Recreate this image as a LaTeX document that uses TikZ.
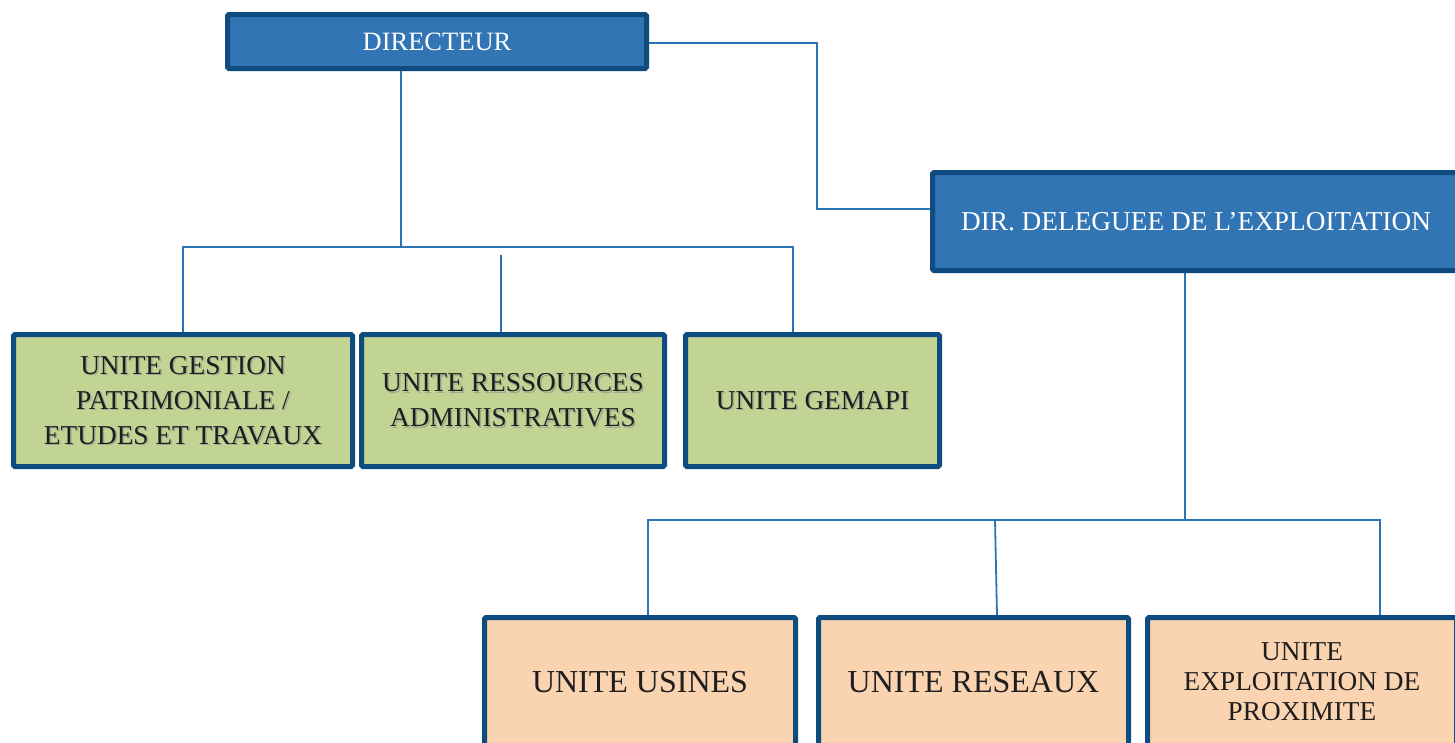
\documentclass[tikz,border=0pt]{standalone}
\usepackage{fontspec}
\setmainfont{Liberation Serif}
\definecolor{boxblue}{HTML}{3275B5}
\definecolor{edgeblue}{HTML}{0E4C80}
\definecolor{boxgreen}{HTML}{C2D494}
\definecolor{boxpeach}{HTML}{FAD3B0}
\definecolor{linkblue}{HTML}{2E74B5}
\definecolor{inkdark}{HTML}{1E1E1E}
\tikzset{
  orgbox/.style={draw=edgeblue, line width=5pt, rounded corners=1.5pt, inner sep=0pt, outer sep=2.5pt},
  bluebox/.style={orgbox, fill=boxblue, text=white},
  greenbox/.style={orgbox, fill=boxgreen},
  peachbox/.style={orgbox, fill=boxpeach, text=inkdark},
  gtext/.style={align=center, inner sep=0pt, font=\fontsize{27.3}{35}\selectfont, text=inkdark},
  gshadow/.style={gtext, text=black!45, opacity=0.6},
  link/.style={draw=linkblue, line width=1.8pt}
}
\begin{document}
\begin{tikzpicture}[x=1pt, y=-1pt]
\useasboundingbox (0,0) rectangle (1455,742);
\clip (0,0) rectangle (1455,742);
\fill[white] (0,0) rectangle (1455,742);

% boxes
\node[bluebox, minimum width=419pt, minimum height=54pt, font=\fontsize{26.5}{30}\selectfont] (dir) at (437,41.5) {DIRECTEUR};
\node[bluebox, minimum width=527pt, minimum height=98pt, font=\fontsize{27.3}{30}\selectfont] (dd) at (1196,221.5) {DIR. DELEGUEE DE L’EXPLOITATION};

\node[greenbox, minimum width=339pt, minimum height=132pt] (b1) at (183,400.5) {};
\node[greenbox, minimum width=303pt, minimum height=132pt] (b2) at (513,400.5) {};
\node[greenbox, minimum width=254pt, minimum height=132pt] (b3) at (812.5,400.5) {};

\node[gshadow] (s1) at ([shift={(1.5,1.5)}]b1.center) {UNITE GESTION\\PATRIMONIALE /\\ETUDES ET TRAVAUX};
\node[gtext] (t1) at (b1.center) {UNITE GESTION\\PATRIMONIALE /\\ETUDES ET TRAVAUX};
\node[gshadow] (s2) at ([shift={(1.5,1.5)}]b2.center) {UNITE RESSOURCES\\ADMINISTRATIVES};
\node[gtext] (t2) at (b2.center) {UNITE RESSOURCES\\ADMINISTRATIVES};
\node[gshadow] (s3) at ([shift={(1.5,1.5)}]b3.center) {UNITE GEMAPI};
\node[gtext] (t3) at (b3.center) {UNITE GEMAPI};

\node[peachbox, minimum width=311pt, minimum height=129pt, font=\fontsize{32}{36}\selectfont] (o1) at (640,682) {UNITE USINES};
\node[peachbox, minimum width=310pt, minimum height=129pt, font=\fontsize{32}{36}\selectfont] (o2) at (973.5,682) {UNITE RESEAUX};
\node[peachbox, minimum width=309pt, minimum height=129pt, align=center, font=\fontsize{27.3}{30}\selectfont] (o3) at (1302,682) {UNITE\\EXPLOITATION DE\\PROXIMITE};

% connectors: directeur
\coordinate (busA) at (401,247);
\coordinate (busL) at (183,247);
\coordinate (busR) at (794,247);
\coordinate (dropR) at (793,247);
\coordinate (dropM) at (501,255);
\draw[link] (dir.south -| busA) -- (busA);
\draw[link] (b1.north) -- (busL) -- (busR);
\draw[link] (dropR) -- (dropR |- b3.north);
\draw[link] (dropM) -- (dropM |- b2.north);

% directeur to delegate
\coordinate (k1) at (817,43);
\coordinate (k2) at (817,209);
\draw[link] (dir.east |- k1) -- (k1) -- (k2) -- (k2 -| dd.west);

% delegate to units
\coordinate (ob) at (1185,520);
\coordinate (obL) at (648,520);
\coordinate (obR) at (1380,520);
\coordinate (obM) at (995,520);
\coordinate (obM2) at (997,600);
\draw[link] (dd.south -| ob) -- (ob);
\draw[link] (obL |- o1.north) -- (obL) -- (obR) -- (obR |- o3.north);
\draw[link] (obM) -- (obM2 |- o2.north);
\end{tikzpicture}
\end{document}
